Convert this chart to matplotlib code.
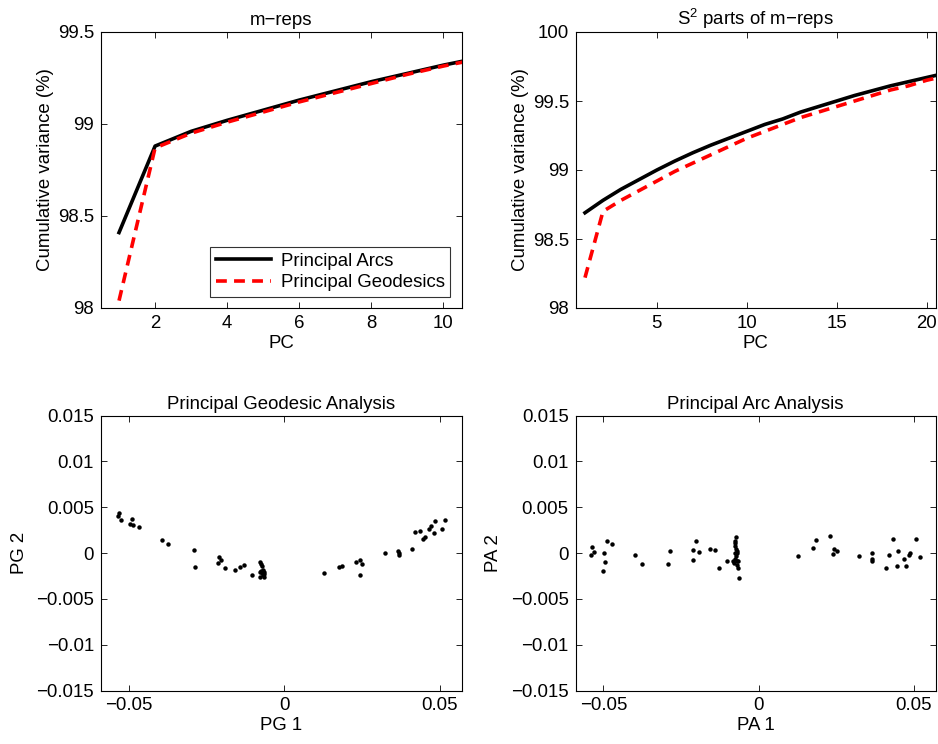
import matplotlib
matplotlib.use("Agg")
import matplotlib.pyplot as plt
from matplotlib.ticker import FuncFormatter, FixedLocator

plt.rcParams['font.family'] = ['Liberation Sans', 'DejaVu Sans']
plt.rcParams['mathtext.fontset'] = 'custom'
plt.rcParams['mathtext.rm'] = 'Liberation Sans'
plt.rcParams['mathtext.it'] = 'Liberation Sans:italic'

# ---- data ----
pc_mreps = [1, 2, 3, 4, 5, 6, 7, 8, 9, 10, 11]
arcs_mreps = [98.41, 98.88, 98.96, 99.02, 99.075, 99.13, 99.18, 99.23, 99.275, 99.32, 99.36]
geo_mreps = [98.04, 98.87, 98.95, 99.01, 99.065, 99.12, 99.17, 99.22, 99.27, 99.315, 99.355]

pc_s2 = list(range(1, 22))
arcs_s2 = [98.69, 98.78, 98.86, 98.93, 99.00, 99.065, 99.125, 99.18, 99.23, 99.28, 99.33,
           99.37, 99.42, 99.46, 99.50, 99.54, 99.575, 99.61, 99.64, 99.67, 99.70]
geo_s2 = [98.22, 98.70, 98.78, 98.85, 98.92, 98.99, 99.05, 99.11, 99.17, 99.23, 99.28,
          99.33, 99.38, 99.42, 99.46, 99.50, 99.54, 99.58, 99.61, 99.65, 99.68]

pg1 = [-0.0535, -0.0531, -0.0526, -0.0497, -0.0491, -0.0487, -0.0467, -0.0395, -0.0375,
       -0.0290, -0.0286, -0.0213, -0.0210, -0.0203, -0.0192, -0.0158, -0.0142, -0.0130,
       -0.0104,
       -0.0077, -0.0076, -0.0072, -0.0077, -0.0074, -0.0068, -0.0064, -0.0077, -0.0069,
       -0.0064, -0.0072, -0.0066,
       0.0126, 0.0176, 0.0186, 0.0232, 0.0242, 0.0251, 0.0242, 0.0324, 0.0366, 0.0368,
       0.0368, 0.0412, 0.0420, 0.0435, 0.0446, 0.0451, 0.0467, 0.0473, 0.0486, 0.0483,
       0.0507, 0.0518]
pg2 = [0.00402, 0.00435, 0.00362, 0.00311, 0.00366, 0.00308, 0.00289, 0.00144, 0.00093,
       0.00031, -0.00158, -0.00111, -0.00046, -0.00071, -0.00169, -0.00180, -0.00158,
       -0.00133, -0.00242,
       -0.00100, -0.00125, -0.00147, -0.00205, -0.00198, -0.00184, -0.00205, -0.00263,
       -0.00242, -0.00263, -0.00220, -0.00227,
       -0.00220, -0.00155, -0.00140, -0.00100, -0.00071, -0.00115, -0.00242, -0.00005,
       0.00027, 0.00005, -0.00027, 0.00041, 0.00224, 0.00235, 0.00151, 0.00177, 0.00267,
       0.00297, 0.00351, 0.00216, 0.00260, 0.00358]

pa1 = [-0.0540, -0.0536, -0.0529, -0.0500, -0.0497, -0.0494, -0.0489, -0.0471, -0.0397,
       -0.0376, -0.0291, -0.0284, -0.0213, -0.0211, -0.0203, -0.0192, -0.0157, -0.0142,
       -0.0129, -0.0103,
       -0.0072, -0.0076, -0.0075, -0.0076, -0.0072, -0.0071, -0.0076, -0.0069, -0.0072,
       -0.0075, -0.0069, -0.0083, -0.0066, -0.0071, -0.0066, -0.0064, -0.0078,
       0.0126, 0.0176, 0.0186, 0.0231, 0.0242, 0.0240, 0.0251, 0.0322, 0.0365, 0.0366,
       0.0366, 0.0410, 0.0421, 0.0434, 0.0446, 0.0450, 0.0469, 0.0475, 0.0484, 0.0489,
       0.0507, 0.0519]
pa2 = [-0.00024, 0.00063, 0.00016, -0.00199, 0.00005, -0.00096, 0.00126, 0.00093, -0.00024,
       -0.00118, -0.00115, 0.00024, 0.00038, -0.00078, 0.00133, 0.00016, 0.00049, 0.00031,
       -0.00169, -0.00089,
       0.00180, 0.00136, 0.00107, 0.00078, 0.00049, 0.00027, -0.00002, 0.00000, -0.00038,
       -0.00067, -0.00082, -0.00089, -0.00082, -0.00133, -0.00169, -0.00278, -0.00110,
       -0.00031, 0.00060, 0.00147, 0.00188, 0.00042, -0.00009, 0.00020, -0.00038, -0.00002,
       -0.00068, -0.00089, -0.00162, -0.00020, 0.00155, -0.00144, 0.00027, -0.00068,
       -0.00140, -0.00020, -0.00002, 0.00158, -0.00049]

W, H = 938, 744
fig = plt.figure(figsize=(W / 100, H / 100), dpi=100)


def add_ax(l, r, t, b):
    return fig.add_axes([l / W, (H - b) / H, (r - l) / W, (b - t) / H])


ax1 = add_ax(101, 461.5, 32, 308)
ax2 = add_ax(576, 935.5, 32, 308)
ax3 = add_ax(101, 461.5, 415.5, 690.5)
ax4 = add_ax(575.5, 935.5, 415.5, 690.5)

FS = 13.4


def fmt(v, pos):
    s = '%g' % round(v, 6)
    return s.replace('-', '\u2212')


for ax in (ax1, ax2, ax3, ax4):
    ax.tick_params(direction='in', top=True, right=True, labelsize=FS, length=4,
                   width=0.6, pad=5)
    for sp in ax.spines.values():
        sp.set_linewidth(0.8)
    ax.yaxis.set_major_formatter(FuncFormatter(fmt))
    ax.xaxis.set_major_formatter(FuncFormatter(fmt))

# top-left
ax1.plot(pc_mreps, arcs_mreps, color='black', lw=2.6, label='Principal Arcs')
ax1.plot(pc_mreps, geo_mreps, color='red', lw=2.6, dashes=(3, 2),
         label='Principal Geodesics')
ax1.set_xlim(0.5, 10.5)
ax1.set_ylim(98, 99.5)
ax1.xaxis.set_major_locator(FixedLocator([2, 4, 6, 8, 10]))
ax1.yaxis.set_major_locator(FixedLocator([98, 98.5, 99, 99.5]))
ax1.set_title('m\u2212reps', fontsize=FS, pad=5)
ax1.set_xlabel('PC', fontsize=FS, labelpad=2)
ax1.set_ylabel('Cumulative variance (%)', fontsize=FS, labelpad=3)
leg = ax1.legend(loc='lower right', fontsize=FS, frameon=True, fancybox=False,
                 edgecolor='black', handlelength=3.0, borderpad=0.3,
                 labelspacing=0.25, borderaxespad=0.6, handletextpad=0.5)
leg.get_frame().set_linewidth(0.8)

# top-right
ax2.plot(pc_s2, arcs_s2, color='black', lw=2.6)
ax2.plot(pc_s2, geo_s2, color='red', lw=2.6, dashes=(3, 2))
ax2.set_xlim(0.5, 20.5)
ax2.set_ylim(98, 100)
ax2.xaxis.set_major_locator(FixedLocator([5, 10, 15, 20]))
ax2.yaxis.set_major_locator(FixedLocator([98, 98.5, 99, 99.5, 100]))
ax2.set_title('S$^2$ parts of m\u2212reps', fontsize=FS, pad=5)
ax2.set_xlabel('PC', fontsize=FS, labelpad=2)
ax2.set_ylabel('Cumulative variance (%)', fontsize=FS, labelpad=3)

# bottom
for ax, xs, ys, title, xl, yl in ((ax3, pg1, pg2, 'Principal Geodesic Analysis', 'PG 1', 'PG 2'),
                                  (ax4, pa1, pa2, 'Principal Arc Analysis', 'PA 1', 'PA 2')):
    ax.plot(xs, ys, 'o', color='black', markersize=3.2, markeredgewidth=0)
    ax.set_xlim(-0.059, 0.057)
    ax.set_ylim(-0.015, 0.015)
    ax.xaxis.set_major_locator(FixedLocator([-0.05, 0, 0.05]))
    ax.yaxis.set_major_locator(FixedLocator([-0.015, -0.01, -0.005, 0, 0.005, 0.01, 0.015]))
    ax.set_title(title, fontsize=FS, pad=5)
    ax.set_xlabel(xl, fontsize=FS, labelpad=2)
    ax.set_ylabel(yl, fontsize=FS, labelpad=6)

fig.savefig('out.png', dpi=100)
